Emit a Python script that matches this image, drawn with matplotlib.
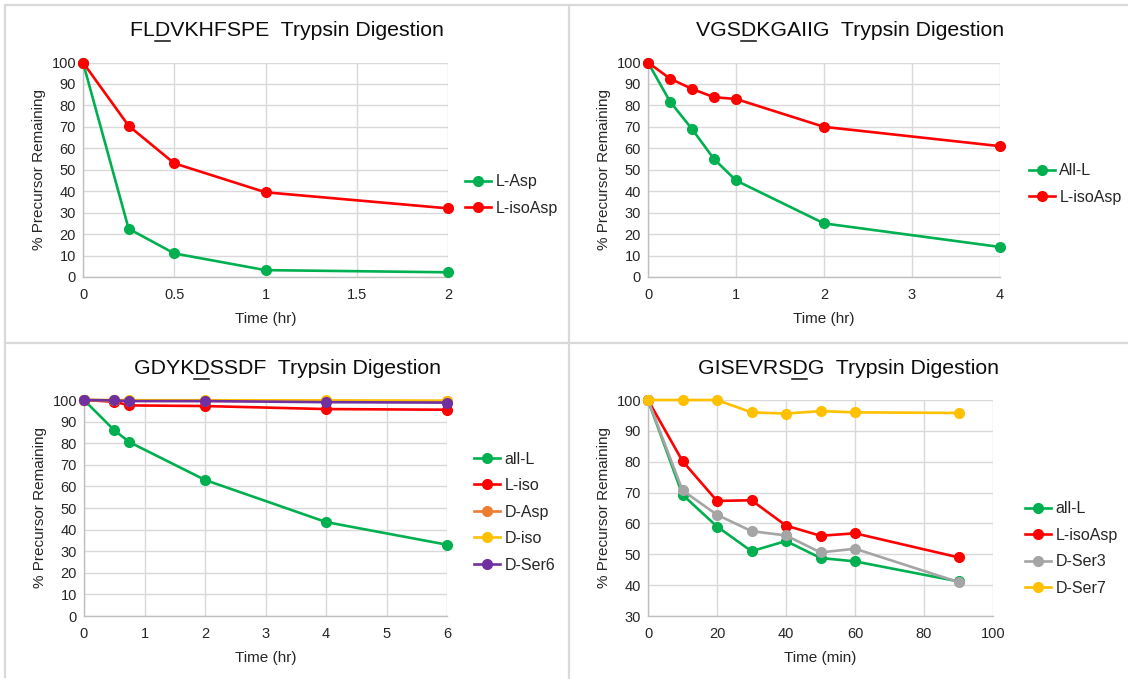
import matplotlib
matplotlib.use("Agg")
import matplotlib.pyplot as plt
from matplotlib.lines import Line2D
from matplotlib.font_manager import FontProperties

plt.rcParams["font.family"] = ["Liberation Sans", "DejaVu Sans"]

GREEN = "#00B050"
RED = "#FF0000"
ORANGE = "#ED7D31"
YELLOW = "#FFC000"
PURPLE = "#7030A0"
GREY = "#A5A5A5"

# Panel 1: FLDVKHFSPE
p1_time = [0, 0.25, 0.5, 1, 2]
p1_l_asp = [100, 22.5, 11, 3.2, 2.2]
p1_l_isoasp = [100, 70.5, 53, 39.5, 32]

# Panel 2: VGSDKGAIIG
p2_time = [0, 0.25, 0.5, 0.75, 1, 2, 4]
p2_all_l = [100, 81.8, 69, 55, 45, 25, 14]
p2_l_isoasp = [100, 92.5, 87.7, 83.8, 83, 70, 61]

# Panel 3: GDYKDSSDF
p3_time = [0, 0.5, 0.75, 2, 4, 6]
p3_all_l = [100, 86, 80.5, 63, 43.5, 33]
p3_l_iso = [100, 99.2, 97.5, 97.2, 95.8, 95.5]
p3_d_asp = [100, 99.8, 99.7, 99.6, 99.5, 99.4]
p3_d_iso = [100, 100, 99.9, 99.9, 99.8, 99.7]
p3_d_ser6 = [100, 99.8, 99.5, 99.5, 99.0, 98.8]

# Panel 4: GISEVRSDG
p4_time = [0, 10, 20, 30, 40, 50, 60, 90]
p4_all_l = [100, 69.3, 59, 51, 54.3, 48.8, 47.7, 41.2]
p4_l_isoasp = [100, 80.2, 67.3, 67.5, 59.3, 56, 56.8, 49]
p4_d_ser3 = [100, 70.7, 62.8, 57.5, 56.1, 50.6, 51.8, 41]
p4_d_ser7 = [100, 100, 100, 96, 95.6, 96.4, 96, 95.8]

W, H = 1128, 679
fig = plt.figure(figsize=(W / 100, H / 100), dpi=100)
renderer = fig.canvas.get_renderer()


def px_rect(left, right, top, bottom):
    return [left / W, 1 - bottom / H, (right - left) / W, (bottom - top) / H]


panels = [
    dict(rect=px_rect(83, 448, 62.5, 277), prefix="FL", mark="D", suffix="VKHFSPE",
         title_xy=(287, 31), xlim=(0, 2), xticks=[0, 0.5, 1, 1.5, 2],
         xticklabels=["0", "0.5", "1", "1.5", "2"],
         ylim=(0, 100), yticks=range(0, 101, 10), xlabel="Time (hr)",
         series=[(p1_time, p1_l_asp, GREEN, "L-Asp"),
                 (p1_time, p1_l_isoasp, RED, "L-isoAsp")],
         legend_xy=(465, 195)),
    dict(rect=px_rect(648, 1000, 62.5, 277), prefix="VGS", mark="D", suffix="KGAIIG",
         title_xy=(850, 31), xlim=(0, 4), xticks=[0, 1, 2, 3, 4],
         xticklabels=["0", "1", "2", "3", "4"],
         ylim=(0, 100), yticks=range(0, 101, 10), xlabel="Time (hr)",
         series=[(p2_time, p2_all_l, GREEN, "All-L"),
                 (p2_time, p2_l_isoasp, RED, "L-isoAsp")],
         legend_xy=(1029, 184)),
    dict(rect=px_rect(84, 447, 400, 616), prefix="GDYK", mark="D", suffix="SSDF",
         title_xy=(287, 369), xlim=(0, 6), xticks=range(0, 7),
         xticklabels=[str(i) for i in range(7)],
         ylim=(0, 100), yticks=range(0, 101, 10), xlabel="Time (hr)",
         series=[(p3_time, p3_all_l, GREEN, "all-L"),
                 (p3_time, p3_l_iso, RED, "L-iso"),
                 (p3_time, p3_d_asp, ORANGE, "D-Asp"),
                 (p3_time, p3_d_iso, YELLOW, "D-iso"),
                 (p3_time, p3_d_ser6, PURPLE, "D-Ser6")],
         legend_xy=(474, 512)),
    dict(rect=px_rect(648, 993, 400, 616), prefix="GISEVRS", mark="D", suffix="G",
         title_xy=(848, 369), xlim=(0, 100), xticks=range(0, 101, 20),
         xticklabels=[str(i) for i in range(0, 101, 20)],
         ylim=(30, 100), yticks=range(30, 101, 10), xlabel="Time (min)",
         series=[(p4_time, p4_all_l, GREEN, "all-L"),
                 (p4_time, p4_l_isoasp, RED, "L-isoAsp"),
                 (p4_time, p4_d_ser3, GREY, "D-Ser3"),
                 (p4_time, p4_d_ser7, YELLOW, "D-Ser7")],
         legend_xy=(1025, 548.5)),
]

TITLE_SIZE = 15.3
title_font = FontProperties(family="Liberation Sans", size=TITLE_SIZE)
TEXT_COLOR = "#262626"


def text_width_px(s):
    # advance width of a string in display pixels
    w, _, _ = renderer.get_text_width_height_descent(s, title_font, ismath=False)
    return w


for p in panels:
    ax = fig.add_axes(p["rect"])
    for xs, ys, color, label in p["series"]:
        ax.plot(xs, ys, color=color, lw=1.9, marker="o", ms=7,
                label=label, clip_on=False, zorder=3)
    ax.set_xlim(*p["xlim"])
    ax.set_ylim(*p["ylim"])
    ax.set_xticks(list(p["xticks"]))
    ax.set_xticklabels(p["xticklabels"])
    ax.set_yticks(list(p["yticks"]))
    ax.grid(True, color="#D9D9D9", lw=1.0, zorder=0)
    ax.set_axisbelow(True)
    for side in ("top", "right"):
        ax.spines[side].set_visible(False)
    for side in ("left", "bottom"):
        ax.spines[side].set_color("#BFBFBF")
        ax.spines[side].set_linewidth(1.0)
    ax.tick_params(axis="x", length=0, labelsize=10.5, labelcolor=TEXT_COLOR, pad=8)
    ax.tick_params(axis="y", length=0, labelsize=10.5, labelcolor=TEXT_COLOR, pad=5)
    ax.set_xlabel(p["xlabel"], fontsize=11, color=TEXT_COLOR, labelpad=7)
    ax.set_ylabel("% Precursor Remaining", fontsize=11, color=TEXT_COLOR, labelpad=4)

    leg = ax.legend(loc="center left", frameon=False, fontsize=11.5,
                    bbox_to_anchor=(p["legend_xy"][0] / W, 1 - p["legend_xy"][1] / H),
                    bbox_transform=fig.transFigure, handlelength=1.6,
                    handletextpad=0.3, labelspacing=0.72, borderaxespad=0,
                    borderpad=0)
    for t in leg.get_texts():
        t.set_color(TEXT_COLOR)

    # title with the modified residue underlined
    full = p["prefix"] + p["mark"] + p["suffix"] + "  Trypsin Digestion"
    cx, cy = p["title_xy"]
    fig.text(cx / W, 1 - cy / H, full, ha="center", va="center",
             fontproperties=title_font, color="#0D0D0D")
    total = text_width_px(full)
    x_start = cx - total / 2
    x0 = x_start + text_width_px(p["prefix"]) + 0.5
    x1 = x_start + text_width_px(p["prefix"] + p["mark"]) - 0.5
    uy = cy + 9.5
    fig.add_artist(Line2D([x0 / W, x1 / W], [1 - uy / H, 1 - uy / H],
                          transform=fig.transFigure, color="#0D0D0D", lw=1.1))

# light grey frame lines between the four charts
frame = "#D9D9D9"
for xs, ys in [([5, W], [5, 5]), ([5, 5], [5, H - 2]),
               ([569, 569], [5, H]), ([5, W], [343, 343])]:
    fig.add_artist(Line2D([x / W for x in xs], [1 - y / H for y in ys],
                          transform=fig.transFigure, color=frame, lw=1.6))

fig.savefig("out.png", dpi=100, facecolor="white")
